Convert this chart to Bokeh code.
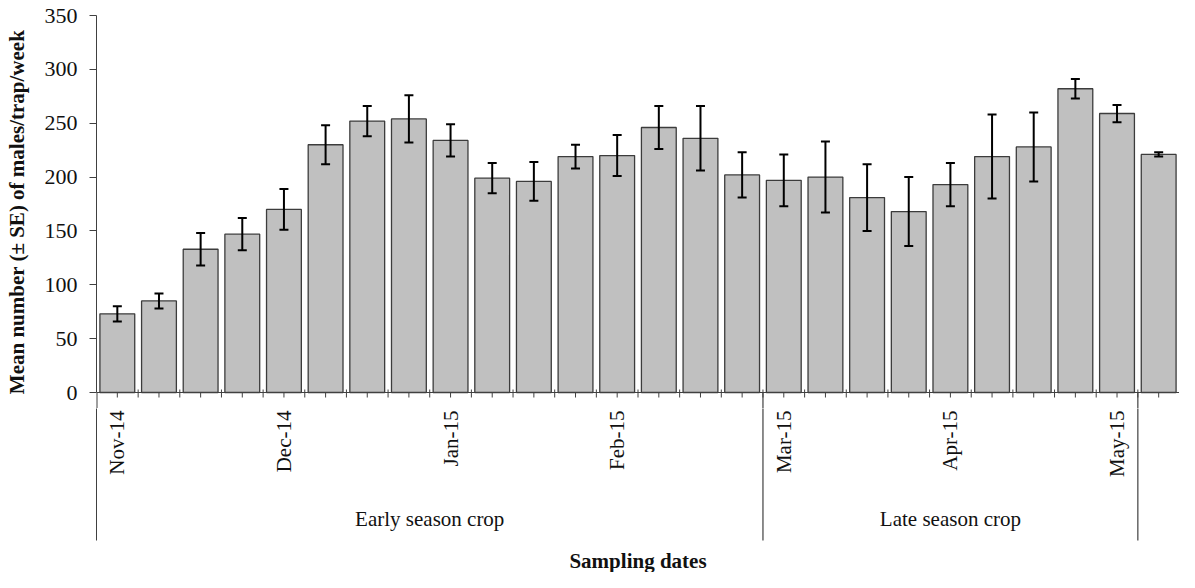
import math
from bokeh.plotting import figure
from bokeh.models import ColumnDataSource, Range1d, FixedTicker, Span
from bokeh.layouts import column
from bokeh.core.properties import value
from bokeh.embed import file_html
from bokeh.resources import INLINE

# ---------------- data ----------------
means = [73, 85, 133, 147, 170, 230, 252, 254, 234, 199, 196, 219, 220,
         246, 236, 202, 197, 200, 181, 168, 193, 219, 228, 282, 259, 221]
se = [7, 7, 15, 15, 19, 18, 14, 22, 15, 14, 18, 11, 19,
      20, 30, 21, 24, 33, 31, 32, 20, 39, 32, 9, 8, 2]
month_labels = ["Nov-14", "Dec-14", "Jan-15", "Feb-15", "Mar-15", "Apr-15", "May-15"]
month_bar = [1, 5, 9, 13, 17, 21, 25]          # sampling index carrying each month label
season_names = ["Early season crop", "Late season crop"]
season_first = [1, 17]
season_last = [16, 25]
y_ticks = [0, 50, 100, 150, 200, 250, 300, 350]

# ---------------- layout (figure pixel rows) ----------------
FONT = "Liberation Serif"
AX = "#404040"
TXT = "#111111"
W, H = 1179, 572
LEFT = 96
TOP, AXIS_ROW, SPLIT = 15, 392, 408
K = (AXIS_ROW - TOP) / 350.0                       # px per data unit

n = len(means)
xs = list(range(1, n + 1))


def ypx(R):
    """figure pixel row -> data y (y=0 at the x-axis row)"""
    return -(R - AXIS_ROW) / K


xr = Range1d(0.5, n + 0.5)

src = ColumnDataSource(dict(
    x=xs, mean=means,
    lo=[m - s for m, s in zip(means, se)],
    hi=[m + s for m, s in zip(means, se)],
))

# ---------------- main plot ----------------
p1 = figure(width=W, height=SPLIT, x_range=xr, y_range=Range1d(ypx(SPLIT), 350),
            output_backend="svg", toolbar_location=None, title=None,
            x_axis_location=None, min_border_left=LEFT, min_border_right=0,
            min_border_top=TOP, min_border_bottom=0)
p1.outline_line_color = None
p1.grid.visible = False
p1.background_fill_color = "white"
p1.border_fill_color = "white"

ay = p1.yaxis[0]
ay.ticker = FixedTicker(ticks=y_ticks)
ay.bounds = (0, 350)
ay.major_tick_out = 7
ay.major_tick_in = 0
ay.minor_tick_out = 0
ay.minor_tick_in = 0
ay.axis_line_color = AX
ay.major_tick_line_color = AX
ay.major_label_text_font = FONT
ay.major_label_text_font_size = "22px"
ay.major_label_text_color = TXT
ay.major_label_standoff = 12
ay.axis_label = "Mean number (± SE) of males/trap/week"
ay.axis_label_text_font = FONT
ay.axis_label_text_font_style = "bold"
ay.axis_label_text_font_size = "21px"
ay.axis_label_text_color = TXT
ay.axis_label_standoff = 13

# continuation of the left axis line below y=0 (frame edge, half clipped -> 1px)
p1.segment(x0=[xr.start], y0=[0], x1=[xr.start], y1=[ypx(SPLIT + 2)],
           line_color=AX, line_width=2)

p1.vbar(x="x", top="mean", bottom=0, width=0.836, source=src,
        fill_color="#c0c0c0", line_color="#3c3c3c", line_width=1.3)

cap = 0.108
p1.segment(x0="x", y0="lo", x1="x", y1="hi", source=src, line_color="black", line_width=2)
p1.segment(x0=[x - cap for x in xs], y0=src.data["hi"], x1=[x + cap for x in xs],
           y1=src.data["hi"], line_color="black", line_width=2)
p1.segment(x0=[x - cap for x in xs], y0=src.data["lo"], x1=[x + cap for x in xs],
           y1=src.data["lo"], line_color="black", line_width=2)

p1.add_layout(Span(location=0, dimension="width", line_color=AX, line_width=1))

# x tick marks: centers (outward) and boundaries (crossing)
p1.segment(x0=xs, y0=[0] * n, x1=xs, y1=[ypx(AXIS_ROW + 5)] * n, line_color=AX, line_width=1)
bnd = [x + 0.5 for x in xs[:-1]]
p1.segment(x0=bnd, y0=[ypx(AXIS_ROW - 3)] * len(bnd), x1=bnd,
           y1=[ypx(AXIS_ROW + 5)] * len(bnd), line_color=AX, line_width=1)

sep = [l + 0.5 for l in season_last]
p1.segment(x0=sep, y0=[0] * len(sep), x1=sep, y1=[ypx(SPLIT + 2)] * len(sep),
           line_color=AX, line_width=1.2)

# ---------------- strip below the axis ----------------
p2 = figure(width=W, height=H - SPLIT, x_range=xr,
            y_range=Range1d(ypx(H), ypx(SPLIT)),
            output_backend="svg", toolbar_location=None, title=None,
            x_axis_location=None, min_border_left=LEFT, min_border_right=0,
            min_border_top=0, min_border_bottom=0)
p2.outline_line_color = None
p2.grid.visible = False
p2.background_fill_color = "white"
p2.border_fill_color = "white"

a2 = p2.yaxis[0]
a2.ticker = FixedTicker(ticks=[])
a2.major_tick_out = 0
a2.major_tick_in = 0
a2.minor_tick_out = 0
a2.minor_tick_in = 0
a2.major_label_text_font_size = "0px"
a2.axis_line_color = AX
a2.bounds = (ypx(540), ypx(SPLIT))

p2.segment(x0=sep, y0=[ypx(SPLIT - 2)] * len(sep), x1=sep, y1=[ypx(540)] * len(sep),
           line_color=AX, line_width=1.2)

p2.text(x=month_bar, y=[ypx(410)] * len(month_bar), text=month_labels,
        angle=math.pi / 2, text_align="right", text_baseline="middle",
        text_font=value(FONT), text_font_size=value("21px"), text_color=TXT)

season_mid = [(a + b) / 2 for a, b in zip(season_first, season_last)]
p2.text(x=season_mid, y=[ypx(518)] * len(season_mid), text=season_names,
        text_align="center", text_baseline="middle",
        text_font=value(FONT), text_font_size=value("21px"), text_color=TXT)

p2.text(x=[(xr.start + xr.end) / 2], y=[ypx(560)], text=["Sampling dates"],
        text_align="center", text_baseline="middle",
        text_font=value(FONT), text_font_size=value("21px"),
        text_font_style="bold", text_color=TXT)

layout = column(p1, p2, spacing=0)
open("out.html", "w").write(file_html(layout, INLINE))
